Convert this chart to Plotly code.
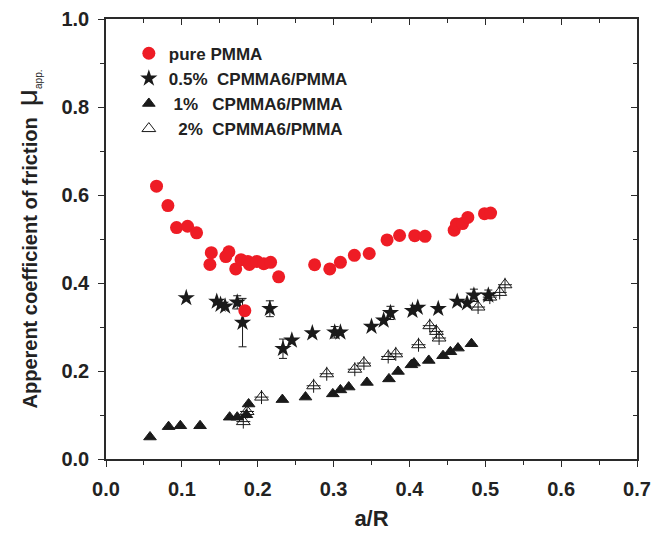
import plotly.graph_objects as go

# ---- data ----
pure_x = [0.0666, 0.0816, 0.093, 0.1075, 0.1194, 0.1388, 0.137, 0.162, 0.158, 0.171,
          0.178, 0.187, 0.189, 0.199, 0.208, 0.217, 0.2276, 0.183,
          0.275, 0.295, 0.309, 0.3274, 0.347, 0.3705, 0.387, 0.407, 0.4206,
          0.459, 0.462, 0.470, 0.477, 0.499, 0.507]
pure_y = [0.620, 0.576, 0.526, 0.529, 0.514, 0.469, 0.442, 0.471, 0.460, 0.432,
          0.453, 0.449, 0.442, 0.449, 0.444, 0.447, 0.414, 0.337,
          0.4415, 0.432, 0.447, 0.463, 0.467, 0.498, 0.508, 0.5075, 0.506,
          0.520, 0.534, 0.535, 0.549, 0.5575, 0.559]

s05_x = [0.1058, 0.146, 0.151, 0.157, 0.173, 0.216, 0.180, 0.2333, 0.245, 0.272,
         0.3015, 0.309, 0.350, 0.366, 0.375, 0.404, 0.411, 0.438, 0.463, 0.476,
         0.485, 0.504]
s05_y = [0.366, 0.358, 0.351, 0.347, 0.356, 0.3415, 0.310, 0.2506, 0.2695, 0.286,
         0.288, 0.288, 0.301, 0.315, 0.332, 0.337, 0.344, 0.3415, 0.358, 0.3545,
         0.372, 0.372]
s05_err = [0, 0, 0, 0, 0.015, 0.018, 0.055, 0.022, 0, 0,
           0.013, 0, 0, 0, 0.015, 0, 0, 0, 0, 0,
           0.014, 0.012]

s1_x = [0.058, 0.0825, 0.098, 0.124, 0.163, 0.173, 0.185, 0.188, 0.2325, 0.263,
        0.299, 0.309, 0.320, 0.344, 0.373, 0.385, 0.4026, 0.406, 0.4255, 0.4443,
        0.454, 0.464, 0.4818]
s1_y = [0.050, 0.0735, 0.0755, 0.0755, 0.095, 0.095, 0.1005, 0.125, 0.135, 0.1407,
        0.148, 0.157, 0.1635, 0.174, 0.182, 0.199, 0.214, 0.218, 0.224, 0.2347,
        0.2437, 0.252, 0.262]

s2_x = [0.181, 0.186, 0.205, 0.2737, 0.291, 0.328, 0.340, 0.372, 0.382, 0.412,
        0.4268, 0.4356, 0.4391, 0.4905, 0.506, 0.519, 0.526]
s2_y = [0.085, 0.108, 0.1407, 0.1664, 0.1937, 0.204, 0.218, 0.233, 0.239, 0.2597,
        0.303, 0.290, 0.275, 0.3454, 0.368, 0.3786, 0.396]

names = ["pure PMMA",
         "0.5%\u00a0\u00a0CPMMA6/PMMA",
         "\u00a01%\u00a0\u00a0\u00a0CPMMA6/PMMA",
         "\u00a0\u00a02%\u00a0\u00a0CPMMA6/PMMA"]

x_ticks = [0.0, 0.1, 0.2, 0.3, 0.4, 0.5, 0.6, 0.7]
y_ticks = [0.0, 0.2, 0.4, 0.6, 0.8, 1.0]
x_range = [0, 0.7]
y_range = [0, 1.0]

FONT = "Arial, 'Liberation Sans', sans-serif"
AX = "#2a2a2a"
TXT = "#222222"

fig = go.Figure()

fig.add_trace(go.Scatter(
    x=s05_x, y=s05_y, mode="markers", name=names[1], legendrank=2, legendgroup="b",
    marker=dict(symbol="star", size=13, color="#1a1a1a", line=dict(width=0)),
    error_y=dict(type="data", array=s05_err, visible=True, color="#1a1a1a",
                 thickness=1, width=4)))

fig.add_trace(go.Scatter(
    x=s1_x, y=s1_y, mode="markers", name=names[2], legendrank=3, legendgroup="c",
    marker=dict(symbol="triangle-up", size=11, color="#1a1a1a",
                line=dict(width=1, color="#1a1a1a"))))

fig.add_trace(go.Scatter(
    x=s2_x, y=s2_y, mode="markers", name=names[3], legendrank=4, legendgroup="d",
    marker=dict(symbol="triangle-up-open", size=12, color="#1a1a1a",
                line=dict(width=1, color="#1a1a1a"))))
fig.add_trace(go.Scatter(
    x=s2_x, y=s2_y, mode="markers", showlegend=False, legendgroup="d",
    marker=dict(symbol="cross-thin-open", size=10, color="#1a1a1a",
                line=dict(width=1, color="#1a1a1a"))))

fig.add_trace(go.Scatter(
    x=pure_x, y=pure_y, mode="markers", name=names[0], legendrank=1, legendgroup="a",
    marker=dict(symbol="circle", size=13, color="#ee1c25", line=dict(width=0))))

# transparent copies so that the mirrored top / right axes are drawn
fig.add_trace(go.Scatter(x=pure_x, y=pure_y, xaxis="x2", yaxis="y", mode="markers",
                         marker=dict(opacity=0), showlegend=False, hoverinfo="skip"))
fig.add_trace(go.Scatter(x=pure_x, y=pure_y, xaxis="x", yaxis="y2", mode="markers",
                         marker=dict(opacity=0), showlegend=False, hoverinfo="skip"))

axis_common = dict(showline=True, linecolor=AX, linewidth=1.5, showgrid=False,
                   zeroline=False, ticklen=6, tickwidth=1.3, tickcolor=AX,
                   automargin=False)

fig.update_layout(
    width=653, height=537,
    margin=dict(l=106, r=16, t=19, b=78),
    paper_bgcolor="white", plot_bgcolor="white",
    font=dict(family=FONT, color=TXT),
    xaxis=dict(range=x_range, tickvals=x_ticks,
               ticktext=[f"<b>{v:.1f}</b>" for v in x_ticks],
               ticks="outside", tickfont=dict(size=20, family=FONT, color=TXT),
               ticklabelstandoff=5,
               title=dict(text="<b>a/R</b>", font=dict(size=22, family=FONT, color=TXT),
                          standoff=12),
               minor=dict(dtick=0.05, ticklen=4, tickcolor=AX, ticks="outside"),
               **axis_common),
    yaxis=dict(range=y_range, tickvals=y_ticks,
               ticktext=[f"<b>{v:.1f}</b>" for v in y_ticks],
               ticks="outside", tickfont=dict(size=20, family=FONT, color=TXT),
               ticklabelstandoff=5,
               title=dict(text="<b>Apperent coefficient of friction  </b><span style='font-size:30px'>μ</span><sub><span style='font-size:10px'>app.</span></sub>",
                          font=dict(size=20, family=FONT, color=TXT), standoff=18),
               minor=dict(dtick=0.1, ticklen=4, tickcolor=AX, ticks="outside"),
               **axis_common),
    xaxis2=dict(overlaying="x", side="top", range=x_range,
                tickvals=x_ticks, showticklabels=False, ticks="inside",
                minor=dict(dtick=0.05, ticklen=4, tickcolor=AX, ticks="inside"),
                anchor="y", **axis_common),
    yaxis2=dict(overlaying="y", side="right", range=y_range,
                tickvals=y_ticks, showticklabels=False, ticks="inside",
                minor=dict(dtick=0.1, ticklen=4, tickcolor=AX, ticks="inside"),
                anchor="x", **axis_common),
    legend=dict(x=0.043, y=0.962, xanchor="left", yanchor="top",
                bgcolor="rgba(0,0,0,0)", borderwidth=0,
                traceorder="grouped", tracegroupgap=0,
                font=dict(size=17, family=FONT, color=TXT), itemwidth=30),
    showlegend=True,
)
for tr in fig.data:
    if tr.name:
        tr.name = f"<b>{tr.name}</b>"

fig.write_html("out.html", config={"displayModeBar": False},
               post_script="document.body.style.margin='0px';")
